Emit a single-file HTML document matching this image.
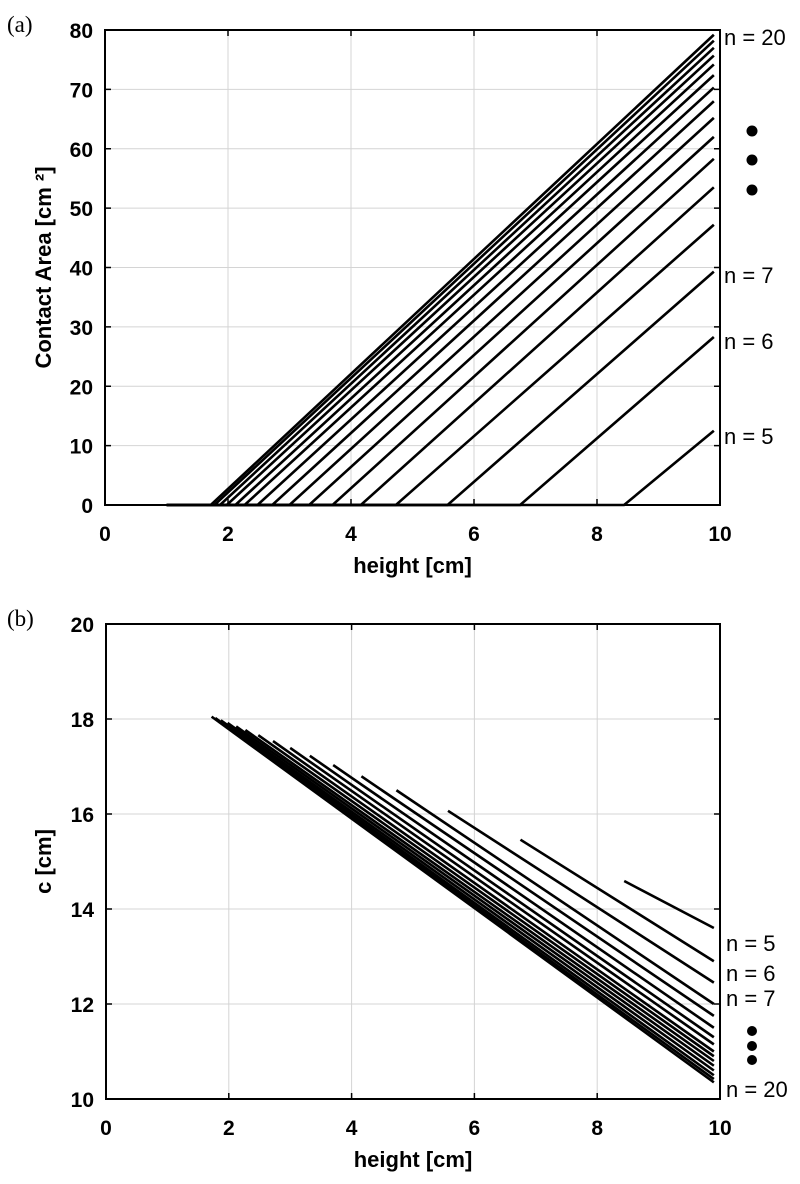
<!DOCTYPE html>
<html><head><meta charset="utf-8"><style>
html,body{margin:0;padding:0;background:#fff;}
svg text{font-family:"Liberation Sans",Arial,sans-serif;}
</style></head><body>
<svg id="s" width="800" height="1179" xmlns="http://www.w3.org/2000/svg">
<text x="7" y="32" style="font-family:'Liberation Serif',serif" font-size="23">(a)</text>
<text x="7" y="626" style="font-family:'Liberation Serif',serif" font-size="23">(b)</text>
</svg>
<script>
const s=document.getElementById('s');const NS='http://www.w3.org/2000/svg';
function el(t,a,txt){const e=document.createElementNS(NS,t);for(const k in a)e.setAttribute(k,a[k]);if(txt!==undefined)e.textContent=txt;s.appendChild(e);return e;}
const h0=[8.44,6.75,5.57,4.73,4.16,3.70,3.32,3.0,2.72,2.48,2.27,2.12,1.98,1.87,1.78,1.72];
const aEnd=[12.5,28.3,39.3,47.2,53.5,58.3,62,65.2,68,70.3,72.4,74.2,75.7,77,78.2,79.2];
const cEnd=[13.6,12.9,12.45,12.0,11.75,11.5,11.3,11.15,11.0,10.9,10.8,10.7,10.6,10.5,10.42,10.35];
function panel(L,T,R,B,ymin,ymax,ystep,ylabel,isA){
  const X=v=>L+(R-L)*v/10, Y=v=>B-(B-T)*(v-ymin)/(ymax-ymin);
  for(let v=2;v<10;v+=2){el('line',{x1:X(v),x2:X(v),y1:T,y2:B,stroke:'#d4d4d4','stroke-width':1});
    el('line',{x1:X(v),x2:X(v),y1:B,y2:B-6,stroke:'#000','stroke-width':1.5});el('line',{x1:X(v),x2:X(v),y1:T,y2:T+6,stroke:'#000','stroke-width':1.5});}
  for(let v=ymin+ystep;v<ymax;v+=ystep){el('line',{x1:L,x2:R,y1:Y(v),y2:Y(v),stroke:'#d4d4d4','stroke-width':1});
    el('line',{x1:L,x2:L+6,y1:Y(v),y2:Y(v),stroke:'#000','stroke-width':1.5});el('line',{x1:R,x2:R-6,y1:Y(v),y2:Y(v),stroke:'#000','stroke-width':1.5});}
  for(let v=0;v<=10;v+=2)el('text',{x:X(v),y:B+36,'text-anchor':'middle','font-size':21,'font-weight':'bold'},v);
  for(let v=ymin;v<=ymax;v+=ystep)el('text',{x:L-12,y:Y(v)+8,'text-anchor':'end','font-size':21,'font-weight':'bold'},v);
  el('text',{x:(L+R)/2,y:B+68,'text-anchor':'middle','font-size':22,'font-weight':'bold'},'height [cm]');
  const yc=(T+B)/2;
  el('text',{x:51,y:yc,'text-anchor':'middle','font-size':22,'font-weight':'bold',transform:`rotate(-90 51 ${yc})`},ylabel);
  for(let i=0;i<16;i++){
    const h=h0[i];
    if(isA){
      el('polyline',{points:`${X(1)},${Y(0)} ${X(h)},${Y(0)} ${X(9.9)},${Y(aEnd[i])}`,fill:'none',stroke:'#000','stroke-width':2.6});
    }else{
      const c0=18.05-0.515*(h-1.72);
      el('line',{x1:X(h),y1:Y(c0),x2:X(9.9),y2:Y(cEnd[i]),stroke:'#000','stroke-width':2.6});
    }
  }
  el('rect',{x:L,y:T,width:R-L,height:B-T,fill:'none',stroke:'#000','stroke-width':2});
}
panel(105,30,720,505,0,80,10,'Contact Area [cm ²]',true);
panel(106,624,720,1099,10,20,2,'c [cm]',false);
function lab(x,y,t){el('text',{x:x,y:y,'font-size':22},t);}
lab(724,45,'n = 20');lab(724,283,'n = 7');lab(724,349,'n = 6');lab(724,444,'n = 5');
[131,160,190].forEach(y=>el('circle',{cx:752,cy:y,r:5.5,fill:'#000'}));
lab(726,951,'n = 5');lab(726,981,'n = 6');lab(726,1006,'n = 7');lab(726,1097,'n = 20');
[1031,1046,1060].forEach(y=>el('circle',{cx:752,cy:y,r:5,fill:'#000'}));
</script>
</body></html>
